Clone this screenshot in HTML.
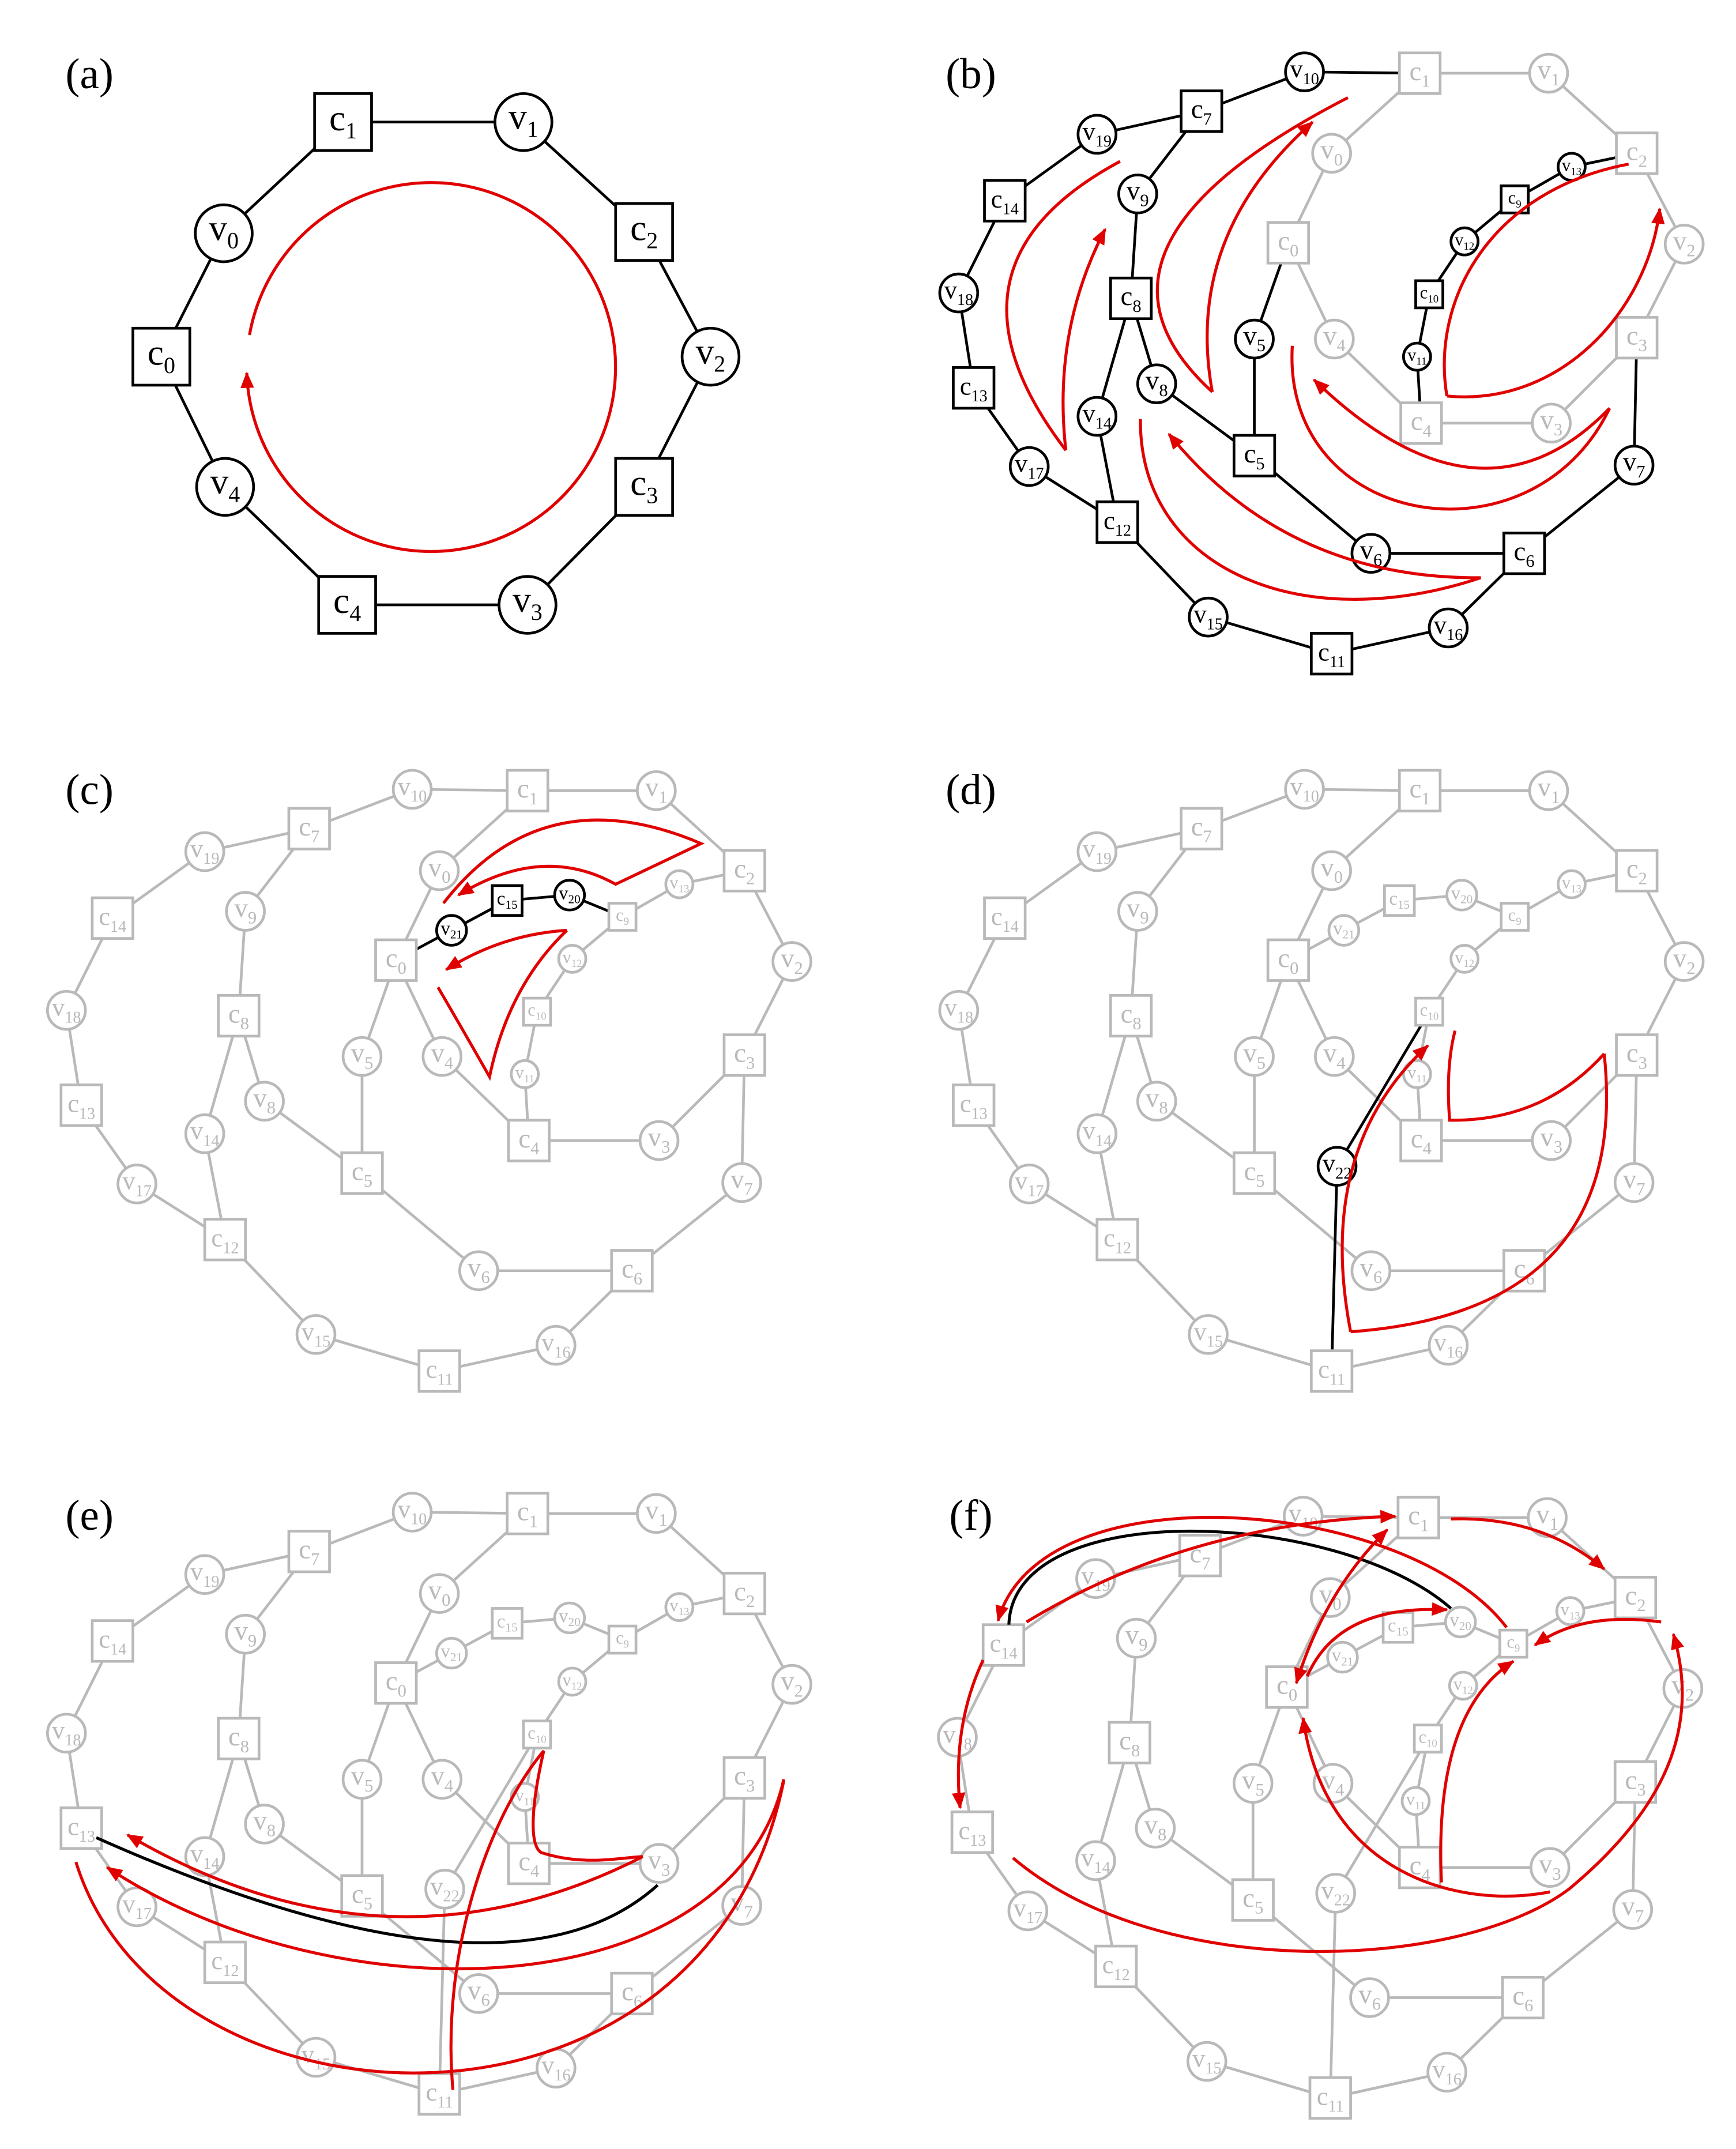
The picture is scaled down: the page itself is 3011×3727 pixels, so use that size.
<!DOCTYPE html>
<html><head><meta charset="utf-8">
<style>
html,body{margin:0;padding:0;background:#fff;}
svg{display:block;}
.N circle,.N rect{fill:#fff;stroke:currentColor;stroke-width:2;}
.N text{fill:currentColor;stroke:none;font-family:"Liberation Serif",serif;text-anchor:middle;}
.E line{stroke:currentColor;stroke-width:2;}
.g{color:#b9b9b9;}
.k{color:#000;}
.red{fill:none;stroke:#e00000;stroke-width:2.2;}
.blk{fill:none;stroke:#000;stroke-width:2.2;}
.lbl{font-family:"Liberation Serif",serif;font-size:32px;fill:#000;text-anchor:middle;}
</style></head>
<body>
<svg width="3011" height="3727" viewBox="0 0 1280.2 1584.6" xmlns="http://www.w3.org/2000/svg">
<defs>
<marker id="ah" viewBox="0 0 12 10" refX="11" refY="5" markerWidth="12" markerHeight="10" markerUnits="userSpaceOnUse" orient="auto">
<path d="M0,0 L12,5 L0,10 z" fill="#e00000"/>
</marker>
<marker id="ahs" viewBox="0 0 12 10" refX="1" refY="5" markerWidth="12" markerHeight="10" markerUnits="userSpaceOnUse" orient="auto">
<path d="M12,0 L0,5 L12,10 z" fill="#e00000"/>
</marker>

<g id="ringE" class="E">
<line x1="389" y1="56" x2="484" y2="56"/><line x1="484" y1="56" x2="549" y2="115"/>
<line x1="549" y1="115" x2="584" y2="182"/><line x1="584" y1="182" x2="549" y2="251"/>
<line x1="549" y1="251" x2="486" y2="314"/><line x1="486" y1="314" x2="390" y2="314"/>
<line x1="390" y1="314" x2="326" y2="252"/><line x1="326" y1="252" x2="292" y2="181"/>
<line x1="292" y1="181" x2="324" y2="115"/><line x1="324" y1="115" x2="389" y2="56"/>
</g>
<g id="outerE" class="E">
<line x1="304" y1="55" x2="389" y2="56"/><line x1="304" y1="55" x2="228" y2="84"/>
<line x1="228" y1="84" x2="151" y2="101"/><line x1="151" y1="101" x2="83" y2="150"/>
<line x1="83" y1="150" x2="49" y2="218"/><line x1="49" y1="218" x2="60" y2="288"/>
<line x1="60" y1="288" x2="101" y2="346"/><line x1="101" y1="346" x2="166" y2="387"/>
<line x1="166" y1="387" x2="233" y2="457"/><line x1="233" y1="457" x2="324" y2="484"/>
<line x1="324" y1="484" x2="410" y2="465"/><line x1="410" y1="465" x2="466" y2="410"/>
<line x1="466" y1="410" x2="547" y2="345"/><line x1="547" y1="345" x2="549" y2="251"/>
<line x1="228" y1="84" x2="181" y2="145"/><line x1="181" y1="145" x2="176" y2="222"/>
<line x1="176" y1="222" x2="151" y2="309"/><line x1="151" y1="309" x2="166" y2="387"/>
<line x1="176" y1="222" x2="195" y2="285"/><line x1="195" y1="285" x2="267" y2="338"/>
<line x1="267" y1="338" x2="267" y2="252"/><line x1="267" y1="252" x2="292" y2="181"/>
<line x1="267" y1="338" x2="353" y2="410"/><line x1="353" y1="410" x2="466" y2="410"/>
</g>
<g id="innerE" class="E">
<line x1="390" y1="314" x2="387" y2="265"/><line x1="387" y1="265" x2="396" y2="219"/>
<line x1="396" y1="219" x2="422" y2="180"/><line x1="422" y1="180" x2="459" y2="149"/>
<line x1="459" y1="149" x2="501" y2="125"/><line x1="501" y1="125" x2="549" y2="115"/>
</g>
<g id="chainE" class="E">
<line x1="292" y1="181" x2="333" y2="159"/><line x1="333" y1="159" x2="374" y2="137"/>
<line x1="374" y1="137" x2="420" y2="133"/><line x1="420" y1="133" x2="459" y2="149"/>
</g>
<g id="v22E" class="E">
<line x1="328" y1="333" x2="396" y2="219"/><line x1="328" y1="333" x2="324" y2="484"/>
</g>

<g id="ringN" class="N">
<g transform="translate(389,56)"><rect x="-15" y="-15" width="30" height="30"/><text y="5" font-size="20">c<tspan font-size="13" dy="5">1</tspan></text></g>
<g transform="translate(484,56)"><circle r="14"/><text y="4" font-size="20">v<tspan font-size="13" dy="5">1</tspan></text></g>
<g transform="translate(549,115)"><rect x="-15" y="-15" width="30" height="30"/><text y="5" font-size="20">c<tspan font-size="13" dy="5">2</tspan></text></g>
<g transform="translate(584,182)"><circle r="14"/><text y="4" font-size="20">v<tspan font-size="13" dy="5">2</tspan></text></g>
<g transform="translate(549,251)"><rect x="-15" y="-15" width="30" height="30"/><text y="5" font-size="20">c<tspan font-size="13" dy="5">3</tspan></text></g>
<g transform="translate(486,314)"><circle r="14"/><text y="4" font-size="20">v<tspan font-size="13" dy="5">3</tspan></text></g>
<g transform="translate(390,314)"><rect x="-15" y="-15" width="30" height="30"/><text y="5" font-size="20">c<tspan font-size="13" dy="5">4</tspan></text></g>
<g transform="translate(326,252)"><circle r="14"/><text y="4" font-size="20">v<tspan font-size="13" dy="5">4</tspan></text></g>
<g transform="translate(292,181)"><rect x="-15" y="-15" width="30" height="30"/><text y="5" font-size="20">c<tspan font-size="13" dy="5">0</tspan></text></g>
<g transform="translate(324,115)"><circle r="14"/><text y="4" font-size="20">v<tspan font-size="13" dy="5">0</tspan></text></g>
</g>
<g id="outerN" class="N">
<g transform="translate(304,55)"><circle r="14"/><text y="4" font-size="19">v<tspan font-size="12" dy="5">10</tspan></text></g>
<g transform="translate(228,84)"><rect x="-15" y="-15" width="30" height="30"/><text y="5" font-size="20">c<tspan font-size="13" dy="5">7</tspan></text></g>
<g transform="translate(151,101)"><circle r="14"/><text y="4" font-size="19">v<tspan font-size="12" dy="5">19</tspan></text></g>
<g transform="translate(83,150)"><rect x="-15" y="-15" width="30" height="30"/><text y="5" font-size="19">c<tspan font-size="12" dy="5">14</tspan></text></g>
<g transform="translate(49,218)"><circle r="14"/><text y="4" font-size="19">v<tspan font-size="12" dy="5">18</tspan></text></g>
<g transform="translate(60,288)"><rect x="-15" y="-15" width="30" height="30"/><text y="5" font-size="19">c<tspan font-size="12" dy="5">13</tspan></text></g>
<g transform="translate(101,346)"><circle r="14"/><text y="4" font-size="19">v<tspan font-size="12" dy="5">17</tspan></text></g>
<g transform="translate(166,387)"><rect x="-15" y="-15" width="30" height="30"/><text y="5" font-size="19">c<tspan font-size="12" dy="5">12</tspan></text></g>
<g transform="translate(233,457)"><circle r="14"/><text y="4" font-size="19">v<tspan font-size="12" dy="5">15</tspan></text></g>
<g transform="translate(324,484)"><rect x="-15" y="-15" width="30" height="30"/><text y="5" font-size="19">c<tspan font-size="12" dy="5">11</tspan></text></g>
<g transform="translate(410,465)"><circle r="14"/><text y="4" font-size="19">v<tspan font-size="12" dy="5">16</tspan></text></g>
<g transform="translate(466,410)"><rect x="-15" y="-15" width="30" height="30"/><text y="5" font-size="20">c<tspan font-size="13" dy="5">6</tspan></text></g>
<g transform="translate(547,345)"><circle r="14"/><text y="4" font-size="20">v<tspan font-size="13" dy="5">7</tspan></text></g>
<g transform="translate(181,145)"><circle r="14"/><text y="4" font-size="20">v<tspan font-size="13" dy="5">9</tspan></text></g>
<g transform="translate(176,222)"><rect x="-15" y="-15" width="30" height="30"/><text y="5" font-size="20">c<tspan font-size="13" dy="5">8</tspan></text></g>
<g transform="translate(151,309)"><circle r="14"/><text y="4" font-size="19">v<tspan font-size="12" dy="5">14</tspan></text></g>
<g transform="translate(195,285)"><circle r="14"/><text y="4" font-size="20">v<tspan font-size="13" dy="5">8</tspan></text></g>
<g transform="translate(267,338)"><rect x="-15" y="-15" width="30" height="30"/><text y="5" font-size="20">c<tspan font-size="13" dy="5">5</tspan></text></g>
<g transform="translate(267,252)"><circle r="14"/><text y="4" font-size="20">v<tspan font-size="13" dy="5">5</tspan></text></g>
<g transform="translate(353,410)"><circle r="14"/><text y="4" font-size="20">v<tspan font-size="13" dy="5">6</tspan></text></g>
</g>
<g id="innerN" class="N">
<g transform="translate(387,265)"><circle r="10"/><text y="3" font-size="13">v<tspan font-size="8" dy="3">11</tspan></text></g>
<g transform="translate(396,219)"><rect x="-10" y="-10" width="20" height="20"/><text y="3" font-size="13">c<tspan font-size="8" dy="3">10</tspan></text></g>
<g transform="translate(422,180)"><circle r="10"/><text y="3" font-size="13">v<tspan font-size="8" dy="3">12</tspan></text></g>
<g transform="translate(459,149)"><rect x="-10" y="-10" width="20" height="20"/><text y="3" font-size="13">c<tspan font-size="8" dy="3">9</tspan></text></g>
<g transform="translate(501,125)"><circle r="10"/><text y="3" font-size="13">v<tspan font-size="8" dy="3">13</tspan></text></g>
</g>
<g id="chainN" class="N">
<g transform="translate(333,159)"><circle r="11"/><text y="3" font-size="14">v<tspan font-size="9" dy="3">21</tspan></text></g>
<g transform="translate(374,137)"><rect x="-11" y="-11" width="22" height="22"/><text y="3" font-size="14">c<tspan font-size="9" dy="3">15</tspan></text></g>
<g transform="translate(420,133)"><circle r="11"/><text y="3" font-size="14">v<tspan font-size="9" dy="3">20</tspan></text></g>
</g>
<g id="v22N" class="N">
<g transform="translate(328,333)"><circle r="14"/><text y="4" font-size="19">v<tspan font-size="12" dy="5">22</tspan></text></g>
</g>
</defs>

<!-- (a) -->
<text class="lbl" x="66" y="65">(a)</text>
<g class="E k">
<line x1="253" y1="90" x2="386" y2="90"/><line x1="386" y1="90" x2="475" y2="171"/>
<line x1="475" y1="171" x2="524" y2="263"/><line x1="524" y1="263" x2="475" y2="359"/>
<line x1="475" y1="359" x2="389" y2="446"/><line x1="389" y1="446" x2="256" y2="446"/>
<line x1="256" y1="446" x2="166" y2="359"/><line x1="166" y1="359" x2="119" y2="263"/>
<line x1="119" y1="263" x2="165" y2="172"/><line x1="165" y1="172" x2="253" y2="90"/>
</g>
<g class="N k">
<g transform="translate(253,90)"><rect x="-21" y="-21" width="42" height="42"/><text y="6" font-size="27">c<tspan font-size="17" dy="6">1</tspan></text></g>
<g transform="translate(386,90)"><circle r="21"/><text y="5" font-size="27">v<tspan font-size="17" dy="6">1</tspan></text></g>
<g transform="translate(475,171)"><rect x="-21" y="-21" width="42" height="42"/><text y="6" font-size="27">c<tspan font-size="17" dy="6">2</tspan></text></g>
<g transform="translate(524,263)"><circle r="21"/><text y="5" font-size="27">v<tspan font-size="17" dy="6">2</tspan></text></g>
<g transform="translate(475,359)"><rect x="-21" y="-21" width="42" height="42"/><text y="6" font-size="27">c<tspan font-size="17" dy="6">3</tspan></text></g>
<g transform="translate(389,446)"><circle r="21"/><text y="5" font-size="27">v<tspan font-size="17" dy="6">3</tspan></text></g>
<g transform="translate(256,446)"><rect x="-21" y="-21" width="42" height="42"/><text y="6" font-size="27">c<tspan font-size="17" dy="6">4</tspan></text></g>
<g transform="translate(166,359)"><circle r="21"/><text y="5" font-size="27">v<tspan font-size="17" dy="6">4</tspan></text></g>
<g transform="translate(119,263)"><rect x="-21" y="-21" width="42" height="42"/><text y="6" font-size="27">c<tspan font-size="17" dy="6">0</tspan></text></g>
<g transform="translate(165,172)"><circle r="21"/><text y="5" font-size="27">v<tspan font-size="17" dy="6">0</tspan></text></g>
</g>
<path class="red" d="M184,247 A136,136 0 1 1 182,275" marker-end="url(#ah)"/>

<!-- (b) -->
<text class="lbl" x="716" y="65">(b)</text>
<g transform="translate(658,-2)">
<use href="#ringE" class="g"/><use href="#outerE" class="k"/><use href="#innerE" class="k"/>
<use href="#ringN" class="g"/><use href="#outerN" class="k"/><use href="#innerN" class="k"/>
</g>
<path class="red" d="M826,119 Q682,196 786,332"/>
<path class="red" d="M786,332 Q776,244 815,169" marker-end="url(#ah)"/>
<path class="red" d="M994,72 Q778,183 894,289"/>
<path class="red" d="M894,289 Q873,174 968,90" marker-end="url(#ah)"/>
<path class="red" d="M841,309 C840,420 960,470 1092,426"/>
<path class="red" d="M1092,426 Q949,427 862,320" marker-end="url(#ah)"/>
<path class="red" d="M953,255 C945,390 1130,420 1187,301"/>
<path class="red" d="M1187,301 Q1092,399 969,280" marker-end="url(#ah)"/>
<path class="red" d="M1201,121 C1100,140 1055,220 1067,292"/>
<path class="red" d="M1067,292 C1150,300 1215,230 1224,154" marker-end="url(#ah)"/>

<!-- (c) -->
<text class="lbl" x="66" y="593">(c)</text>
<g transform="translate(0,527)">
<use href="#ringE" class="g"/><use href="#outerE" class="g"/><use href="#innerE" class="g"/><use href="#chainE" class="k"/>
<use href="#ringN" class="g"/><use href="#outerN" class="g"/><use href="#innerN" class="g"/><use href="#chainN" class="k"/>
<path class="red" d="M327,139 Q400,45 517,95 L454,125 Q400,95 338,133" marker-end="url(#ah)"/>
<path class="red" d="M418,159 Q370,162 329,188" marker-end="url(#ah)"/>
<path class="red" d="M418,159 Q375,200 361,267 Q340,230 323,201"/>
</g>

<!-- (d) -->
<text class="lbl" x="716" y="593">(d)</text>
<g transform="translate(658,527)">
<use href="#ringE" class="g"/><use href="#outerE" class="g"/><use href="#innerE" class="g"/><use href="#chainE" class="g"/><use href="#v22E" class="k"/>
<use href="#ringN" class="g"/><use href="#outerN" class="g"/><use href="#innerN" class="g"/><use href="#chainN" class="g"/><use href="#v22N" class="k"/>
<path class="red" d="M338,455 Q312,320 395,244" marker-end="url(#ah)"/>
<path class="red" d="M338,455 Q545,440 525,250"/>
<path class="red" d="M525,250 Q480,300 411,299 Q408,260 415,233"/>
</g>

<!-- (e) -->
<text class="lbl" x="66" y="1128">(e)</text>
<g transform="translate(0,1060)">
<use href="#ringE" class="g"/><use href="#outerE" class="g"/><use href="#innerE" class="g"/><use href="#chainE" class="g"/><use href="#v22E" class="g"/>
<use href="#ringN" class="g"/><use href="#outerN" class="g"/><use href="#innerN" class="g"/><use href="#chainN" class="g"/><use href="#v22N" class="g"/>
<path class="blk" d="M71,295 Q374,430 485,330"/>
<path class="red" d="M474,309 Q286,405 94,293" marker-end="url(#ah)"/>
<path class="red" d="M578,252 C540,420 250,430 79,317" marker-end="url(#ah)"/>
<path class="red" d="M56,313 C120,520 520,540 578,253"/>
<path class="red" d="M334,481 C325,380 360,280 401,231 C392,270 390,300 399,306 C430,316 455,310 474,309"/>
</g>

<!-- (f) -->
<text class="lbl" x="716" y="1128">(f)</text>
<g transform="translate(657,1063)">
<use href="#ringE" class="g"/><use href="#outerE" class="g"/><use href="#innerE" class="g"/><use href="#chainE" class="g"/><use href="#v22E" class="g"/>
<use href="#ringN" class="g"/><use href="#outerN" class="g"/><use href="#innerN" class="g"/><use href="#chainN" class="g"/><use href="#v22N" class="g"/>
<path class="blk" d="M87,135 C90,40 330,50 413,123"/>
<path class="red" d="M100,133 Q220,60 372,55" marker-end="url(#ah)"/>
<path class="red" d="M454,137 C380,40 110,20 79,132" marker-end="url(#ah)"/>
<path class="red" d="M68,161 Q45,210 51,270" marker-end="url(#ah)"/>
<path class="red" d="M90,307 C200,400 420,390 500,330 C560,280 600,220 577,142" marker-end="url(#ah)"/>
<path class="red" d="M413,57 Q480,55 526,94" marker-end="url(#ah)"/>
<path class="red" d="M366,65 Q320,110 299,178" marker-start="url(#ahs)" marker-end="url(#ah)"/>
<path class="red" d="M307,173 Q330,120 410,124" marker-end="url(#ah)"/>
<path class="red" d="M568,133 Q510,125 475,150" marker-end="url(#ah)"/>
<path class="red" d="M406,325 Q400,200 459,162" marker-end="url(#ah)"/>
<path class="red" d="M486,332 C420,345 320,320 304,204" marker-end="url(#ah)"/>
</g>
</svg>
</body></html>
